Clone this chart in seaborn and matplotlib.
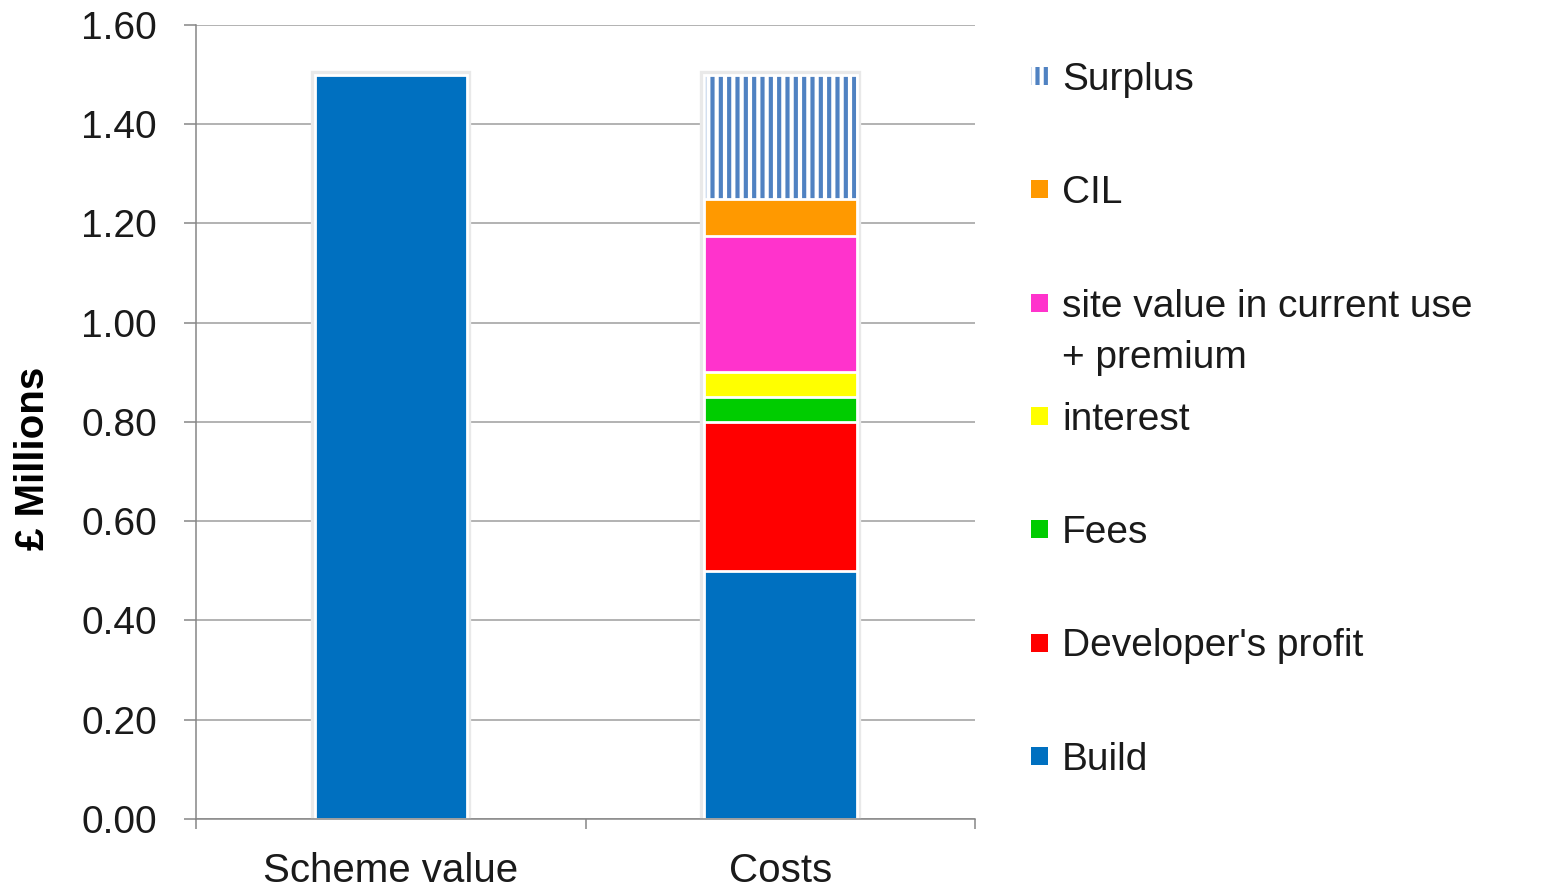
import numpy as np
import matplotlib
matplotlib.use("Agg")
import matplotlib.pyplot as plt
from matplotlib.patches import Rectangle
import seaborn as sns

categories = ["Scheme value", "Costs"]
scheme_value = [1.50]
cost_labels = ["Build", "Developer's profit", "Fees", "interest",
               "site value in current use\n+ premium", "CIL", "Surplus"]
cost_values = [0.50, 0.30, 0.05, 0.05, 0.275, 0.075, 0.25]
cost_colors = ["#0070C0", "#FF0000", "#00CC00", "#FFFF00", "#FF33CC", "#FF9900", "#5082C2"]
y_ticks = [0.0, 0.2, 0.4, 0.6, 0.8, 1.0, 1.2, 1.4, 1.6]

sns.set_style("white")
plt.rcParams["font.family"] = ["Liberation Sans", "DejaVu Sans"]
plt.rcParams["hatch.linewidth"] = 3.0

fig = plt.figure(figsize=(15.41, 8.90), dpi=100)
ax = fig.add_axes([0.127, 0.080, 0.506, 0.892])

bw = 0.39
shadow = "#e9e9e9"

# scheme value bar
sns.barplot(x=["Scheme value"], y=scheme_value, order=categories, color=shadow,
            edgecolor=shadow, linewidth=6, width=bw, saturation=1, ax=ax)
sns.barplot(x=["Scheme value"], y=scheme_value, order=categories, color="#0070C0",
            edgecolor="white", linewidth=2, width=bw, saturation=1, ax=ax)

# stacked costs, drawn from the top total downwards
cum = np.cumsum(cost_values)
sns.barplot(x=["Costs"], y=[cum[-1]], order=categories, color=shadow,
            edgecolor=shadow, linewidth=6, width=bw, saturation=1, ax=ax)
sns.barplot(x=["Costs"], y=[cum[-1]], order=categories, color="white",
            edgecolor=cost_colors[-1], linewidth=0, hatch="||", width=bw,
            saturation=1, ax=ax)
sns.barplot(x=["Costs"], y=[cum[-1]], order=categories, color="white", fill=False,
            linewidth=2, width=bw, saturation=1, ax=ax)
for i in range(len(cost_values) - 2, -1, -1):
    sns.barplot(x=["Costs"], y=[cum[i]], order=categories, color=cost_colors[i],
                edgecolor="white", linewidth=2, width=bw, saturation=1, ax=ax)

ax.set_ylim(0, 1.6)
ax.set_xlim(-0.5, 1.5)
ax.set_yticks(y_ticks)
ax.set_yticklabels([f"{v:.2f}" for v in y_ticks])
ax.yaxis.grid(True, color="#a6a6a6", linewidth=1.2)
ax.set_axisbelow(True)

ax.set_xticks([-0.5, 0.5, 1.5])
ax.set_xticklabels(["", "", ""])
ax.set_xticks([0, 1], minor=True)
ax.set_xticklabels(categories, minor=True)
ax.tick_params(axis="x", which="major", direction="out", length=7, width=1.1,
               color="#868686", bottom=True)
ax.tick_params(axis="x", which="minor", length=0, pad=24, labelsize=29, colors="#1a1a1a")
ax.tick_params(axis="y", direction="out", length=9, width=1.1, color="#868686",
               pad=19, labelsize=28, labelcolor="#1a1a1a", left=True)
ax.set_xlabel("")
ax.set_ylabel("")
fig.text(33 / 1541, 1 - 458 / 890, "£ Millions", fontsize=29, fontweight="bold",
         rotation=90, ha="center", va="center", color="black")

for s in ["top", "right"]:
    ax.spines[s].set_visible(False)
for s in ["left", "bottom"]:
    ax.spines[s].set_color("#868686")
    ax.spines[s].set_linewidth(1.1)

# legend, Excel style with evenly spaced rows
W, H = 1541, 890
for j, i in enumerate(range(len(cost_labels) - 1, -1, -1)):
    yc = 76 + 113.3 * j
    if cost_labels[i] == "Surplus":
        patch = Rectangle((1031 / W, 1 - (yc + 9) / H), 17 / W, 18 / H,
                          transform=fig.transFigure, facecolor="white",
                          edgecolor=cost_colors[i], linewidth=0, hatch="||")
    else:
        patch = Rectangle((1031 / W, 1 - (yc + 9) / H), 17 / W, 18 / H,
                          transform=fig.transFigure, facecolor=cost_colors[i],
                          edgecolor="none")
    fig.add_artist(patch)
    for k, line in enumerate(cost_labels[i].split("\n")):
        fig.text(1062 / W, 1 - (yc + 51 * k) / H, line, fontsize=28, color="#1a1a1a",
                 va="center_baseline", ha="left")

fig.savefig("out.png", dpi=100)
